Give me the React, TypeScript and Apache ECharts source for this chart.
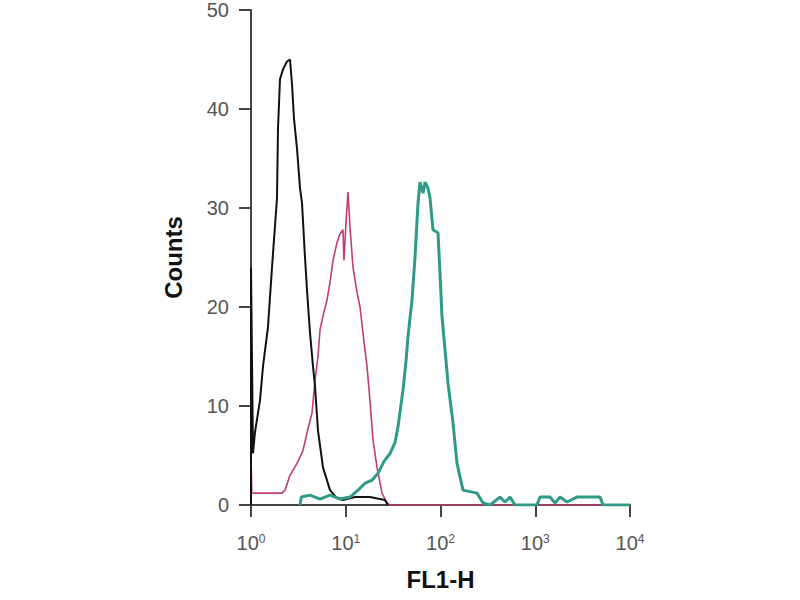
import React, { useEffect, useRef } from "react";
import * as echarts from "echarts";

// Black (control) histogram: [FL1-H, count]
const blackX = [1, 1, 1.05, 1.1, 1.245, 1.339, 1.511, 1.666, 1.881, 1.927, 2.023, 2.177, 2.399, 2.58, 2.709, 2.844, 3.059, 3.29, 3.454, 3.715, 3.9, 4.195, 4.512, 4.737, 5.095, 5.752, 6.82, 7.89, 9.35, 12.5, 18.0, 25.9, 27.9];
const blackY = [0, 24, 5.2, 7.3, 10.6, 14, 18, 24, 31, 38, 43, 44, 44.8, 45, 42.5, 39, 36, 32, 30.5, 25, 21.7, 17.4, 14, 12, 7.5, 3.8, 1.5, 0.8, 0.5, 0.8, 0.8, 0.5, 0];

// Magenta histogram
const magentaX = [1, 1, 1.02, 2.124, 2.285, 2.58, 3.059, 3.538, 3.9, 4.404, 4.737, 5.095, 5.349, 5.894, 6.34, 6.82, 7.335, 8.08, 8.7, 9.35, 9.58, 10.06, 10.56, 11.09, 11.93, 13.14, 14.14, 15.58, 16.76, 18.0, 19.39, 21.37, 24.13, 27.25, 29.3, 10000];
const magentaY = [0, 5, 1.2, 1.2, 1.5, 3, 4.2, 5.5, 7.3, 9.3, 12.6, 15, 17.7, 19.5, 20.7, 22.5, 24.7, 26.5, 27.4, 27.8, 24.7, 28.5, 31.6, 28, 24, 21.5, 20, 16.5, 14, 10.6, 6.6, 3.8, 1.2, 0.2, 0, 0];

// Green (teal) histogram
const greenX = [3.29, 3.4, 4.195, 5.349, 6.82, 8.7, 11.09, 13.47, 15.97, 18.92, 21.9, 25.33, 29.3, 33.1, 35.6, 40.2, 43.2, 45.4, 50.0, 53.8, 57.9, 60.8, 65.4, 68.6, 73.8, 77.5, 83.3, 94.1, 98.8, 103.7, 111.6, 120.0, 135.5, 149.3, 172.8, 242.8, 280.9, 333, 424.6, 479, 541, 611, 1043, 1122, 1431, 1616, 1825, 2163, 2758, 3783, 4825, 5188, 10000];
const greenY = [0, 0.8, 1, 0.6, 1, 0.6, 0.8, 1.5, 2.2, 2.5, 3.2, 4.4, 5.2, 6.3, 7.9, 11.6, 14.5, 17, 20.7, 25, 30.5, 32.6, 31.5, 32.6, 32, 31, 27.8, 27.5, 23.4, 19, 15.7, 12.3, 8.3, 4.2, 1.5, 1.2, 0.2, 0, 0.8, 0.3, 0.8, 0, 0, 0.8, 0.8, 0.2, 0.8, 0.3, 0.8, 0.8, 0.8, 0, 0];

const yTicks = [0, 10, 20, 30, 40, 50];

const zip = (xs: number[], ys: number[]) => xs.map((x, i) => [x, ys[i]]);

export default function App() {
  const ref = useRef<HTMLDivElement>(null);
  useEffect(() => {
    if (!ref.current) return;
    const chart = echarts.init(ref.current, null, { renderer: "svg" });
    const font = "'Liberation Sans', Arial, sans-serif";
    chart.setOption({
      animation: false,
      backgroundColor: "#ffffff",
      grid: { left: 251, right: 170, top: 10, bottom: 95 },
      xAxis: {
        type: "log",
        logBase: 10,
        min: 1,
        max: 10000,
        name: "FL1-H",
        nameLocation: "middle",
        nameGap: 62,
        nameTextStyle: { fontFamily: font, fontWeight: "bold", fontSize: 24, color: "#111" },
        axisLine: { lineStyle: { color: "#444", width: 2 } },
        axisTick: { show: true, length: 12, inside: false, lineStyle: { color: "#444", width: 2 } },
        minorTick: { show: false },
        splitLine: { show: false },
        axisLabel: {
          margin: 28,
          formatter: (v: number) => `{b|10}{s|${Math.round(Math.log10(v))}}`,
          rich: {
            b: { fontFamily: font, fontSize: 20, color: "#555" },
            s: { fontFamily: font, fontSize: 12, color: "#555", verticalAlign: "top", padding: [0, 0, 8, 0] },
          },
        },
      },
      yAxis: {
        type: "value",
        min: yTicks[0],
        max: yTicks[yTicks.length - 1],
        interval: 10,
        name: "Counts",
        nameLocation: "middle",
        nameGap: 66,
        nameTextStyle: { fontFamily: font, fontWeight: "bold", fontSize: 24, color: "#111" },
        axisLine: { show: true, lineStyle: { color: "#444", width: 2 } },
        axisTick: { show: true, length: 12, inside: false, lineStyle: { color: "#444", width: 2 } },
        splitLine: { show: false },
        axisLabel: { margin: 22, fontFamily: font, fontSize: 20, color: "#555" },
      },
      series: [
        {
          type: "line",
          data: zip(magentaX, magentaY),
          symbol: "none",
          lineStyle: { color: "#c23d72", width: 1.6 },
          z: 3,
        },
        {
          type: "line",
          data: zip(blackX, blackY),
          symbol: "none",
          lineStyle: { color: "#111111", width: 2 },
          z: 4,
        },
        {
          type: "line",
          data: zip(greenX, greenY),
          symbol: "none",
          lineStyle: { color: "#2f9a86", width: 3 },
          z: 5,
        },
      ],
    });
    return () => chart.dispose();
  }, []);
  return <div ref={ref} style={{ width: 800, height: 600, position: "absolute", left: 0, top: 0 }} />;
}
